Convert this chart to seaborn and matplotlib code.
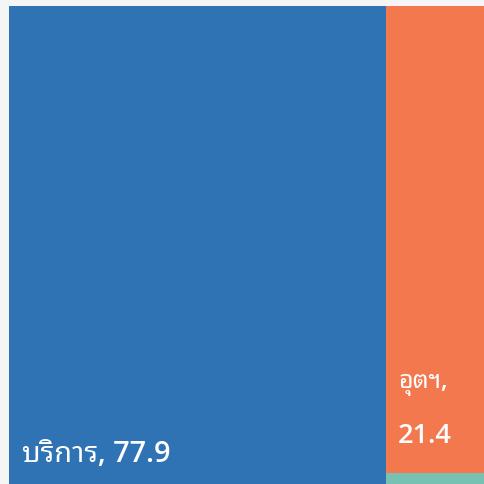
import matplotlib
matplotlib.use("Agg")
import matplotlib.pyplot as plt
import seaborn as sns

# Data
sectors = ["บริการ", "อุตฯ", "เกษตร"]
shares = [77.9, 21.4, 0.7]
colors = ["#3073b5", "#f3784d", "#76c1b1"]

sns.set_style("white")
plt.rcParams["font.family"] = ["Open Sans", "Noto Sans Thai Looped", "DejaVu Sans"]

fig = plt.figure(figsize=(4.85, 4.84), dpi=100, facecolor="#f5f5f5")
ax = fig.add_axes([9 / 485, -4 / 484, 484 / 485, 482 / 484])

total = sum(shares)
rest = total - shares[0]
# slice-and-dice layout: first sector one column, the rest stacked
ax.bar(0, 1, width=shares[0], bottom=0, align="edge", color=colors[0], linewidth=0)
bottom = 0.0
for val, col in zip(shares[1:][::-1], colors[1:][::-1]):
    ax.bar(shares[0], val / rest, width=rest, bottom=bottom, align="edge",
           color=col, linewidth=0)
    bottom += val / rest

ax.set_xlim(0, total)
ax.set_ylim(0, 1)
ax.axis("off")

ax.text(2.7, 0.054, f"{sectors[0]}, {shares[0]}", color="white", fontsize=20.8,
        fontweight=600, ha="left", va="baseline")
ax.text(shares[0] + 2.5, 0.2075, f"{sectors[1]},", color="white",
        fontsize=18, fontweight=600, ha="left", va="baseline")
ax.text(shares[0] + 2.5, 0.0934, f"{shares[1]}", color="white",
        fontsize=19.5, fontweight=600, ha="left", va="baseline")

fig.savefig("out.png", dpi=100, facecolor=fig.get_facecolor())
